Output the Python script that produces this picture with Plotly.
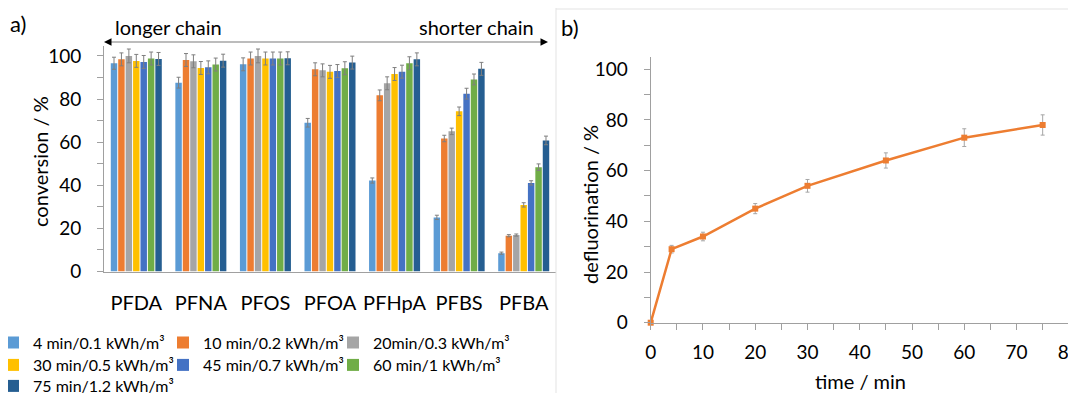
import plotly.graph_objects as go

# The page body has an 8 px margin, so the figure is sized to the visible window
OFF = 8
W, H = 1076 - OFF, 393 - OFF

categories = ["PFDA", "PFNA", "PFOS", "PFOA", "PFHpA", "PFBS", "PFBA"]
series_names = ["4 min/0.1 kWh/m³", "10 min/0.2 kWh/m³", "20min/0.3 kWh/m³",
                "30 min/0.5 kWh/m³", "45 min/0.7 kWh/m³", "60 min/1 kWh/m³",
                "75 min/1.2 kWh/m³"]
series_colors = ["#5B9BD5", "#ED7D31", "#A5A5A5", "#FFC000", "#4472C4", "#70AD47", "#255E91"]

conv_4 = [96.6, 87.6, 96.1, 69.0, 42.2, 25.1, 8.5]
conv_10 = [98.4, 98.1, 98.8, 93.8, 81.7, 61.7, 16.6]
conv_20 = [100.0, 97.5, 100.0, 93.3, 87.3, 65.0, 16.9]
conv_30 = [97.7, 94.4, 98.8, 92.6, 91.6, 74.3, 30.9]
conv_45 = [97.2, 94.7, 98.8, 93.0, 92.7, 82.5, 41.1]
conv_60 = [98.8, 96.0, 98.8, 94.3, 96.6, 89.1, 48.4]
conv_75 = [98.6, 97.8, 98.9, 96.9, 98.4, 94.0, 60.8]

err_4 = [2.8, 2.5, 3.0, 2.0, 1.2, 1.0, 0.5]
err_10 = [3.0, 3.0, 3.0, 3.0, 2.5, 1.5, 0.5]
err_20 = [3.2, 3.0, 3.2, 3.0, 3.0, 1.5, 0.5]
err_30 = [3.0, 3.0, 3.0, 3.0, 3.0, 2.0, 1.0]
err_45 = [3.0, 3.0, 3.0, 3.0, 3.0, 2.5, 1.0]
err_60 = [3.0, 3.0, 3.0, 3.0, 3.0, 2.5, 1.5]
err_75 = [3.0, 3.0, 3.0, 3.0, 3.0, 3.0, 2.0]

conv_series = [conv_4, conv_10, conv_20, conv_30, conv_45, conv_60, conv_75]
err_series = [err_4, err_10, err_20, err_30, err_45, err_60, err_75]
legend_ids = ["legend", "legend", "legend", "legend2", "legend2", "legend2", "legend3"]

time_min = [0, 4, 10, 20, 30, 45, 60, 75]
defluorination = [0, 29, 34, 45, 54, 64, 73, 78]
defl_err = [0, 1.5, 1.7, 2.0, 2.5, 3.0, 3.5, 4.0]

FONT = "Lato"

def px_x(p):
    return (p - OFF) / W

def px_y(p):
    return 1 - (p - OFF) / H

fig = go.Figure()

for i, (name, vals, errs, col, lg) in enumerate(zip(series_names, conv_series, err_series,
                                                    series_colors, legend_ids)):
    last_in_row = i in (2, 5, 6)
    fig.add_trace(go.Bar(
        x=categories, y=vals, name=name, marker=dict(color=col, line=dict(width=0)),
        error_y=dict(type="data", array=errs, color="#7F7F7F", thickness=1, width=2),
        xaxis="x", yaxis="y", legend=lg,
        legendwidth=150 if last_in_row else None,
    ))

fig.add_trace(go.Scatter(
    x=time_min, y=defluorination, mode="lines+markers",
    line=dict(color="#ED7D31", width=2.5),
    marker=dict(symbol="square", size=6, color="#ED7D31"),
    error_y=dict(type="data", array=defl_err, color="#A6A6A6", thickness=1, width=2),
    xaxis="x2", yaxis="y2", showlegend=False, cliponaxis=False,
))

axis_col = "#A0A0A0"
tickfont = dict(family=FONT, size=19, color="#000000")

fig.update_layout(
    width=W, height=H,
    margin=dict(l=0, r=0, t=0, b=0, pad=0, autoexpand=False),
    paper_bgcolor="white", plot_bgcolor="white",
    font=dict(family=FONT, color="#000000"),
    barmode="group", bargap=0.195, bargroupgap=0.13,
    xaxis=dict(domain=[px_x(104), px_x(556)], anchor="y", type="category",
               showline=True, linecolor=axis_col, linewidth=1, ticks="",
               showgrid=False, tickfont=dict(family=FONT, size=20, color="#000"),
               ticklabelstandoff=13, fixedrange=True, automargin=False),
    yaxis=dict(domain=[px_y(271.5), px_y(46)], anchor="x", range=[0, 104.6],
               showline=True, linecolor=axis_col, linewidth=1, showgrid=False,
               zeroline=False, dtick=20, ticks="outside", ticklen=6, tickcolor=axis_col,
               minor=dict(dtick=10, ticks="outside", ticklen=6, tickcolor=axis_col),
               tickfont=tickfont, ticklabelstandoff=12, automargin=False),
    xaxis2=dict(domain=[px_x(650.7), px_x(1068.8)], anchor="y2", range=[0, 80],
                showline=True, linecolor=axis_col, linewidth=1, showgrid=False,
                zeroline=False, dtick=10, ticks="outside", ticklen=6, tickcolor=axis_col,
                minor=dict(dtick=5, ticks="outside", ticklen=6, tickcolor=axis_col),
                tickfont=tickfont, ticklabelstandoff=6, automargin=False,
                ticklabeloverflow="allow"),
    yaxis2=dict(domain=[px_y(322.7), px_y(57.3)], anchor="x2", range=[0, 104.7],
                showline=True, linecolor=axis_col, linewidth=1, showgrid=False,
                zeroline=False, dtick=20, ticks="outside", ticklen=6, tickcolor=axis_col,
                minor=dict(dtick=10, ticks="outside", ticklen=6, tickcolor=axis_col),
                tickfont=tickfont, ticklabelstandoff=12, automargin=False),
    showlegend=True,
)

leg_common = dict(orientation="h", xanchor="left", yanchor="middle",
                  bgcolor="rgba(0,0,0,0)", font=dict(family=FONT, size=16, color="#000"),
                  entrywidth=125, entrywidthmode="pixels", itemwidth=30,
                  traceorder="normal")
fig.update_layout(
    legend=dict(x=px_x(-7), y=px_y(342.5), **leg_common),
    legend2=dict(x=px_x(-7), y=px_y(365), **leg_common),
    legend3=dict(x=px_x(-7), y=px_y(386), **leg_common),
)

annotations = [
    dict(text="a)", x=px_x(8), y=px_y(8), xanchor="left", yanchor="top",
         font=dict(family=FONT, size=22)),
    dict(text="b)", x=px_x(559), y=px_y(27), xanchor="left", yanchor="middle",
         font=dict(family=FONT, size=22)),
    dict(text="longer chain", x=px_x(113), y=px_y(27), xanchor="left", yanchor="middle",
         font=dict(family=FONT, size=20)),
    dict(text="shorter chain", x=px_x(536), y=px_y(27), xanchor="right", yanchor="middle",
         font=dict(family=FONT, size=20)),
    dict(text="conversion / %", x=px_x(40), y=px_y(162), xanchor="center", yanchor="middle",
         textangle=-90, font=dict(family=FONT, size=20)),
    dict(text="defluorination / %", x=px_x(590), y=px_y(205), xanchor="center", yanchor="middle",
         textangle=-90, font=dict(family=FONT, size=20)),
    dict(text="time / min", x=px_x(860), y=px_y(381), xanchor="center", yanchor="middle",
         font=dict(family=FONT, size=20)),
    # long gray double arrow line
    dict(text="", x=px_x(546), y=px_y(42), ax=-(546 - 106), ay=0,
         axref="pixel", ayref="pixel", showarrow=True, arrowhead=0,
         arrowwidth=1.5, arrowcolor="#A6A6A6"),
    # black arrow heads at both ends
    dict(text="", x=px_x(548), y=px_y(42), ax=-6, ay=0,
         axref="pixel", ayref="pixel", showarrow=True, arrowhead=2,
         arrowsize=1, arrowwidth=1.5, arrowcolor="#000000"),
    dict(text="", x=px_x(104), y=px_y(42), ax=6, ay=0,
         axref="pixel", ayref="pixel", showarrow=True, arrowhead=2,
         arrowsize=1, arrowwidth=1.5, arrowcolor="#000000"),
]
for a in annotations:
    a.setdefault("xref", "paper")
    a.setdefault("yref", "paper")
    a.setdefault("showarrow", False)
fig.update_layout(annotations=annotations)

fig.update_layout(shapes=[
    dict(type="line", xref="paper", yref="paper", x0=px_x(556), x1=px_x(556),
         y0=px_y(400), y1=px_y(0), line=dict(color="#E3E3E3", width=1)),
    dict(type="line", xref="paper", yref="paper", x0=px_x(556), x1=px_x(1080),
         y0=px_y(9), y1=px_y(9), line=dict(color="#E3E3E3", width=1)),
])

fig.write_html("out.html")
